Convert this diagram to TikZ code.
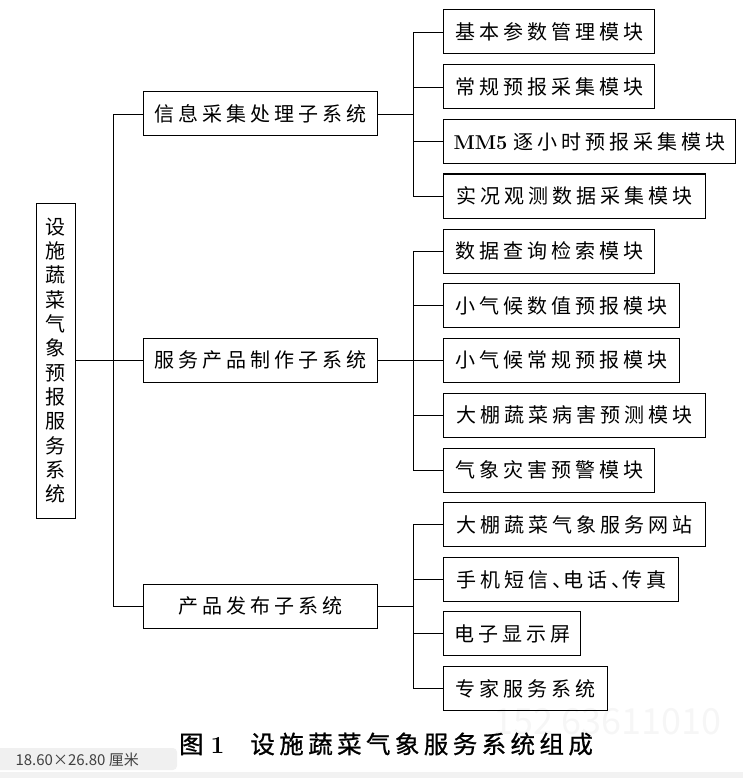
\documentclass[tikz,border=0pt]{standalone}
\usepackage{fontspec}
\newfontfamily\cjk[LetterSpace=20]{Noto Sans CJK SC}
\newfontfamily\plaincjk{Noto Sans CJK SC}
\newfontfamily\capcjk[LetterSpace=18,FakeBold=0.8]{Noto Sans CJK SC}
\newcommand\dun{、\kern-9pt}

\tikzset{
  blk/.style={draw, line width=1pt, inner sep=0pt, minimum height=44pt,
    font=\cjk\fontsize{20}{24}\selectfont},
  sub/.style={blk, minimum width=234pt, anchor=west},
  mdl/.style={blk, anchor=west},
  link/.style={line width=0.8pt},
}

\begin{document}
\begin{tikzpicture}[x=1pt,y=-1pt]
    \useasboundingbox (0,0) rectangle (743,778);
    % watermark and page strip
    \node[text=gray!7, font=\plaincjk\fontsize{36}{40}\selectfont, anchor=west] (wm) at (490,722) {152 63611010};
    \fill[gray!10] (0,772) rectangle (743,778);
    % Root
    \node[blk, minimum width=39pt, minimum height=315pt, align=center,
      font=\plaincjk\fontsize{20}{24.3}\selectfont] (root) at (55.5,360.5)
      {设\\施\\蔬\\菜\\气\\象\\预\\报\\服\\务\\系\\统};
    % Subsystems
    \node[sub] (info) at (143,114) {信息采集处理子系统};
    \node[sub] (serv) at (143,360) {服务产品制作子系统};
    \node[sub] (pub)  at (143,606) {产品发布子系统};
    % Modules of info
    \node[mdl, minimum width=211pt] (i1) at (443,32) {基本参数管理模块};
    \node[mdl, minimum width=211pt] (i2) at (443,87) {常规预报采集模块};
    \node[mdl, minimum width=292pt] (i3) at (443,141.5) {{\rmfamily\bfseries\fontsize{20}{22}\selectfont MM5}\hspace{6pt}逐小时预报采集模块};
    \node[mdl, minimum width=262pt] (i4) at (443,196) {实况观测数据采集模块};
    % Modules of serv
    \node[mdl, minimum width=211pt] (s1) at (443,251.3) {数据查询检索模块};
    \node[mdl, minimum width=236pt] (s2) at (443,305.5) {小气候数值预报模块};
    \node[mdl, minimum width=236pt] (s3) at (443,360) {小气候常规预报模块};
    \node[mdl, minimum width=262pt] (s4) at (443,415) {大棚蔬菜病害预测模块};
    \node[mdl, minimum width=211pt] (s5) at (443,470) {气象灾害预警模块};
    % Modules of pub
    \node[mdl, minimum width=262pt] (p1) at (443,524.5) {大棚蔬菜气象服务网站};
    \node[mdl, minimum width=235pt] (p2) at (443,579.5) {手机短信\dun 电话\dun 传真};
    \node[mdl, minimum width=137pt] (p3) at (443,633.5) {电子显示屏};
    \node[mdl, minimum width=164pt] (p4) at (443,688.5) {专家服务系统};
    % Buses
    \coordinate (lbus) at (113,0);
    \coordinate (rbus) at (413,0);
    \draw[link] (root.east) -- (root.east -| lbus);
    \draw[link] (info.west) -| (lbus |- pub.west) -- (pub.west);
    \draw[link] (serv.west) -- (serv.west -| lbus);
    \foreach \s/\a/\b/\m in {info/i1/i4/{i2,i3}, serv/s1/s5/{s2,s3,s4}, pub/p1/p4/{p2,p3}}{
      \draw[link] (\s.east) -- (\s.east -| rbus);
      \draw[link] (\a.west) -| (rbus |- \b.west) -- (\b.west);
      \foreach \n in \m
        \draw[link] (\n.west) -- (\n.west -| rbus);
    }
    % Caption
    \node[font=\capcjk\fontsize{24.5}{28}\selectfont] (cap) at (386,744)
      {图\hspace{7pt}{\rmfamily\bfseries 1}\hspace{26pt}设施蔬菜气象服务系统组成};
    % Size tag
    \fill[gray!12, rounded corners=4pt] (-5,748) rectangle (177,770);
    \node[text=black!75, font=\plaincjk\fontsize{15}{17}\selectfont, anchor=west] (tag) at (12,759.5) {18.60×26.80 厘米};
\end{tikzpicture}
\end{document}
